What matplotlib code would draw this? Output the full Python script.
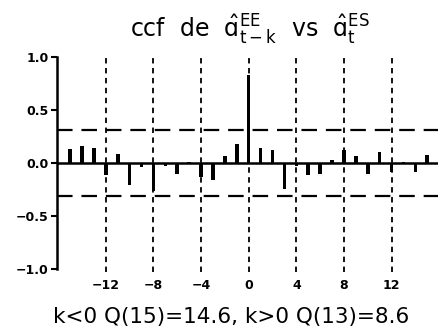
import numpy as np
import matplotlib
matplotlib.use('Agg')
import matplotlib.pyplot as plt

# cross-correlation values, lags -15..15
lags = list(range(-15, 16))
ccf = [0.134, 0.16, 0.14, -0.115, 0.084, -0.21, -0.04, -0.26, -0.03, -0.10,
       0.01, -0.13, -0.16, 0.066, 0.18, 0.83, 0.144, 0.125, -0.247, -0.03,
       -0.115, -0.10, 0.03, 0.12, 0.07, -0.10, 0.10, -0.085, 0.005, -0.085,
       0.075]
conf_band = 0.31
grid_lags = [-12, -8, -4, 0, 4, 8, 12]
yticks = [-1.0, -0.5, 0.0, 0.5, 1.0]
title = ('ccf  de  $\\hat{\u0251}^{EE}_{t-k}$  vs  '
         '$\\hat{\u0251}^{ES}_{t}$')
footer = 'k<0 Q(15)=14.6, k>0 Q(13)=8.6'

plt.rcParams['mathtext.fontset'] = 'dejavusans'
plt.rcParams['mathtext.default'] = 'regular'

W, H = 438, 336
fig = plt.figure(figsize=(W / 100, H / 100), dpi=100)
ax = fig.add_axes([57 / W, 0.19, 381 / W, 0.65])

ax.bar(lags, ccf, width=0.3, color='black')
ax.axhline(0, color='black', linewidth=1.8)
for v in (conf_band, -conf_band):
    ax.axhline(v, color='black', linewidth=1.6, dashes=(7, 4))
for g in grid_lags:
    ax.axvline(g, color='black', linewidth=1.3, dashes=(3, 2.5))

ax.set_xlim(-16.1, 15.9)
ax.set_ylim(-1.03, 1.03)

for s in ['top', 'right', 'bottom']:
    ax.spines[s].set_visible(False)
ax.spines['left'].set_bounds(-1, 1)
ax.spines['left'].set_linewidth(1.8)

ax.set_yticks(yticks)
ax.set_yticklabels(['%.1f' % v if v >= 0 else '\u2212%.1f' % -v for v in yticks],
                   fontsize=9, fontweight='bold')
ax.tick_params(axis='y', direction='out', length=4, width=1.5, pad=2)
ax.set_xticks(grid_lags)
ax.set_xticklabels([str(g) if g >= 0 else '\u2212%d' % -g for g in grid_lags],
                   fontsize=9, fontweight='bold')
ax.tick_params(axis='x', length=0, pad=5)

fig.text(250 / W, 1 - 30 / H, title, ha='center', va='center', fontsize=17)
fig.text(231 / W, 1 - 317 / H, footer, ha='center', va='center', fontsize=15.5)

fig.savefig('out.png', dpi=100)
